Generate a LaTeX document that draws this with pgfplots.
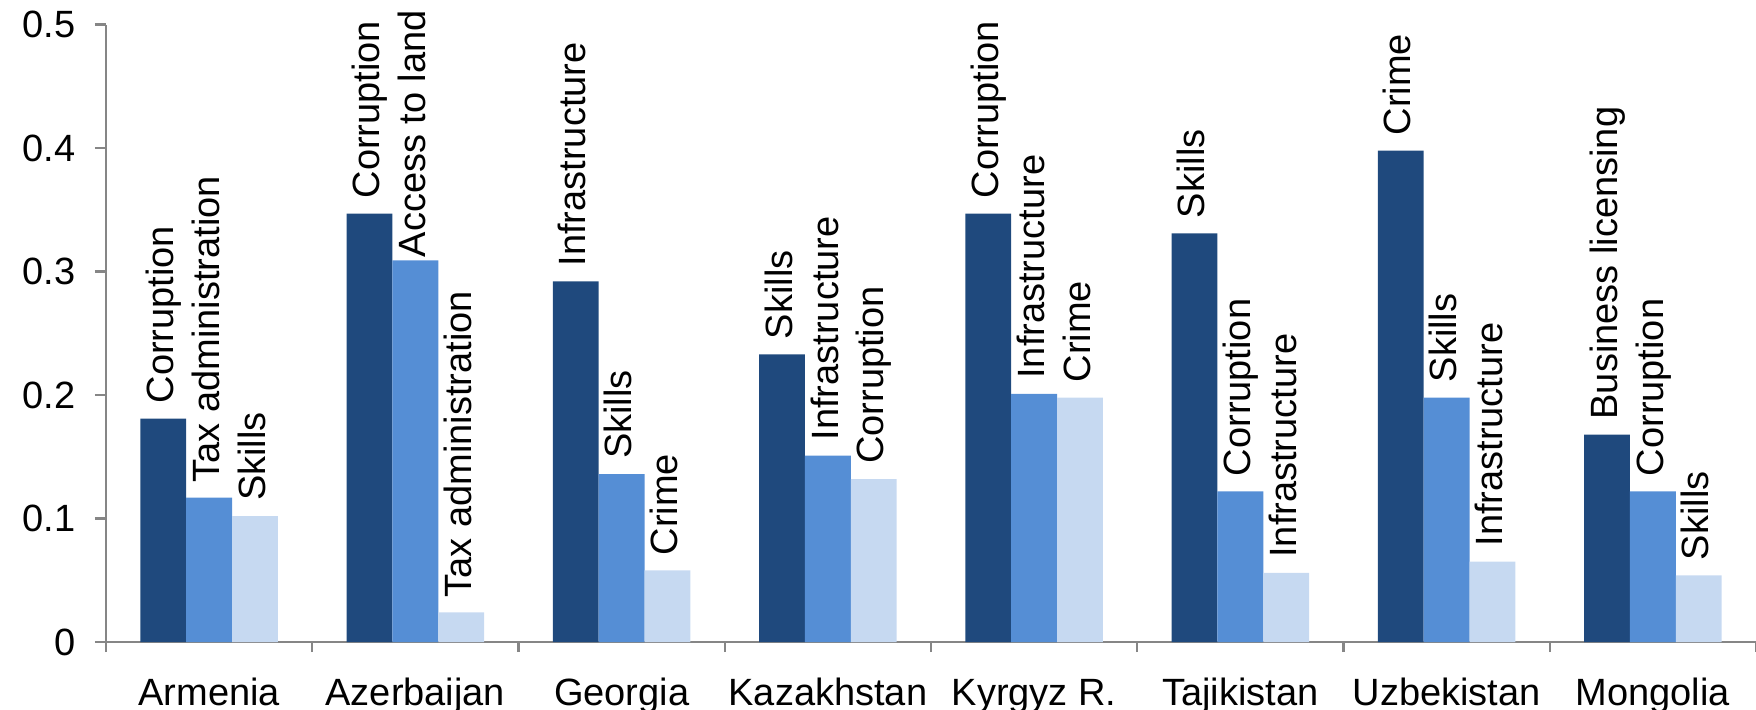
\documentclass[border=0pt]{standalone}
\usepackage{fontspec}
\setmainfont{Liberation Sans}
\usepackage{pgfplots}
\usepackage{pgfplotstable}
\pgfplotsset{compat=1.18}

\definecolor{barA}{HTML}{1F497D}
\definecolor{barB}{HTML}{558ED5}
\definecolor{barC}{HTML}{C6D9F1}
\definecolor{axisgray}{HTML}{868686}

% Largest, second and third obstacle per country (share of firms)
\pgfplotstableread[col sep=comma]{
x,y,label,gap
0,0.181,Corruption,3.6
1,0.347,Corruption,3.6
2,0.292,Infrastructure,3.6
3,0.233,Skills,3.6
4,0.347,Corruption,3.6
5,0.331,Skills,3.6
6,0.398,Crime,3.6
7,0.168,Business licensing,3.6
}\tabA
\pgfplotstableread[col sep=comma]{
x,y,label,gap
0,0.117,Tax administration,3.6
1,0.309,Access to land,0.6
2,0.136,Skills,3.6
3,0.151,Infrastructure,3.6
4,0.201,Infrastructure,3.6
5,0.122,Corruption,3.6
6,0.198,Skills,3.6
7,0.122,Corruption,3.6
}\tabB
\pgfplotstableread[col sep=comma]{
x,y,label,gap
0,0.102,Skills,3.6
1,0.024,Tax administration,3.6
2,0.058,Crime,3.6
3,0.132,Corruption,3.6
4,0.198,Crime,3.6
5,0.056,Infrastructure,3.6
6,0.065,Infrastructure,3.6
7,0.054,Skills,3.6
}\tabC

\newcommand{\chartfont}{\fontsize{9.5}{11}\selectfont}

\begin{document}
\begin{tikzpicture}
\begin{axis}[
  at={(0,0)}, anchor=south west,
  scale only axis, width=412.5pt, height=154.35pt,
  xmin=-0.5, xmax=7.5, ymin=0, ymax=0.5,
  axis lines*=left,
  axis line style={axisgray, line width=0.6pt},
  tick style={axisgray, line width=0.6pt},
  major x tick style={draw=none},
  tick align=outside,
  major tick length=2.75pt, minor tick length=2.5pt,
  xtick={0,1,2,3,4,5,6,7},
  xticklabels={Armenia,Azerbaijan,Georgia,Kazakhstan,Kyrgyz R.,Tajikistan,Uzbekistan,Mongolia},
  minor xtick={-0.5,0.5,1.5,2.5,3.5,4.5,5.5,6.5,7.5},
  ytick={0,0.1,0.2,0.3,0.4,0.5},
  yticklabels={0,0.1,0.2,0.3,0.4,0.5},
  scaled y ticks=false,
  /pgf/number format/assume math mode=true,
  ticklabel style={font=\chartfont, text=black},
  yticklabel style={inner sep=0pt, anchor=east, xshift=-4.75pt},
  xticklabel style={inner sep=0pt, anchor=base, yshift=-13pt},
  ybar, bar width=0.2225,
  clip=false,
  point meta=explicit symbolic,
  nodes near coords={\pgfplotspointmeta},
  visualization depends on={\thisrow{gap} \as \labgap},
  every node near coord/.append style={rotate=90, anchor=west,
    inner ysep=0pt, inner xsep=\labgap pt,
    text height=0.72em, text depth=0.21em,
    font=\chartfont, text=black},
]
\addplot[fill=barA, draw=none, bar shift=-0.2225] table[x=x, y=y, meta=label]{\tabA};
\addplot[fill=barB, draw=none, bar shift=0]       table[x=x, y=y, meta=label]{\tabB};
\addplot[fill=barC, draw=none, bar shift=0.2225]  table[x=x, y=y, meta=label]{\tabC};
\end{axis}
\pgfresetboundingbox
\path[use as bounding box] (-26.5pt,-16.75pt) rectangle (412.5pt,160.5pt);
\end{tikzpicture}
\end{document}
